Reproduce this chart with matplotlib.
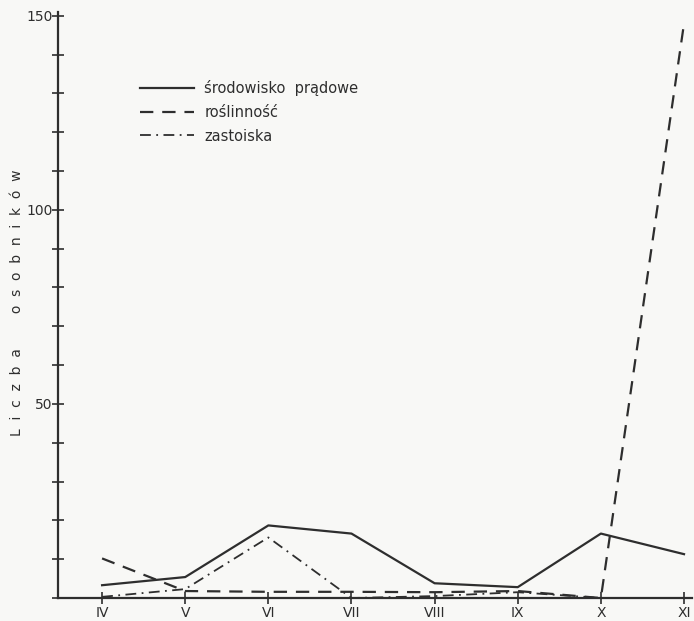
import matplotlib
matplotlib.use('Agg')
import matplotlib.pyplot as plt
from matplotlib.ticker import MultipleLocator

months = ['IV', 'V', 'VI', 'VII', 'VIII', 'IX', 'X', 'XI']
srodowisko_pradowe = [3.3, 5.4, 18.7, 16.6, 3.8, 2.8, 16.6, 11.3]
roslinnosc = [10.2, 1.8, 1.6, 1.6, 1.5, 1.8, 0.0, 148.0]
zastoiska = [0.3, 2.3, 15.6, 0.0, 0.5, 1.5, 0.0]

INK = '#2e2e2e'
PAPER = '#f8f8f6'

fig = plt.figure(figsize=(6.94, 6.21), dpi=100, facecolor=PAPER)
ax = fig.add_axes([0.0836, 0.037, 0.914, 0.944])
ax.set_facecolor(PAPER)

x = list(range(len(months)))
ax.plot(x, srodowisko_pradowe, color=INK, lw=1.6, ls='-', label='środowisko  prądowe')
ax.plot(x, roslinnosc, color=INK, lw=1.6, ls=(0, (6, 4)), label='roślinność')
ax.plot(x[:len(zastoiska)], zastoiska, color=INK, lw=1.3, ls=(0, (6, 3, 1, 3)),
        label='zastoiska')

ax.set_xlim(-0.53, 7.1)
ax.set_ylim(0, 151)

for side in ['top', 'right']:
    ax.spines[side].set_visible(False)
for side in ['left', 'bottom']:
    ax.spines[side].set_color(INK)
    ax.spines[side].set_linewidth(1.6)

ax.set_xticks(x)
ax.set_xticklabels(months)
ax.yaxis.set_major_locator(MultipleLocator(50))
ax.yaxis.set_minor_locator(MultipleLocator(10))
ax.set_yticks([50, 100, 150])
ax.set_yticklabels(['50', '100', '150'])
ax.tick_params(axis='both', which='both', direction='inout', color=INK,
               labelcolor=INK, labelsize=10)
ax.tick_params(axis='y', which='major', length=8, width=1.2, pad=0)
ax.tick_params(axis='y', which='minor', length=8, width=1.2)
ax.tick_params(axis='x', length=8, width=1.2, pad=2)

leg = ax.legend(loc='upper left', bbox_to_anchor=(0.109, 0.906), frameon=False,
                fontsize=10.5, handlelength=3.7, handletextpad=0.7,
                labelspacing=0.6, labelcolor=INK)

fig.text(0.024, 0.512, 'L  i  c  z  b  a        o  s  o  b  n  i  k  ó  w', rotation=90,
         ha='center', va='center', fontsize=10, color=INK)

plt.savefig('out.png', dpi=100, facecolor=PAPER)
